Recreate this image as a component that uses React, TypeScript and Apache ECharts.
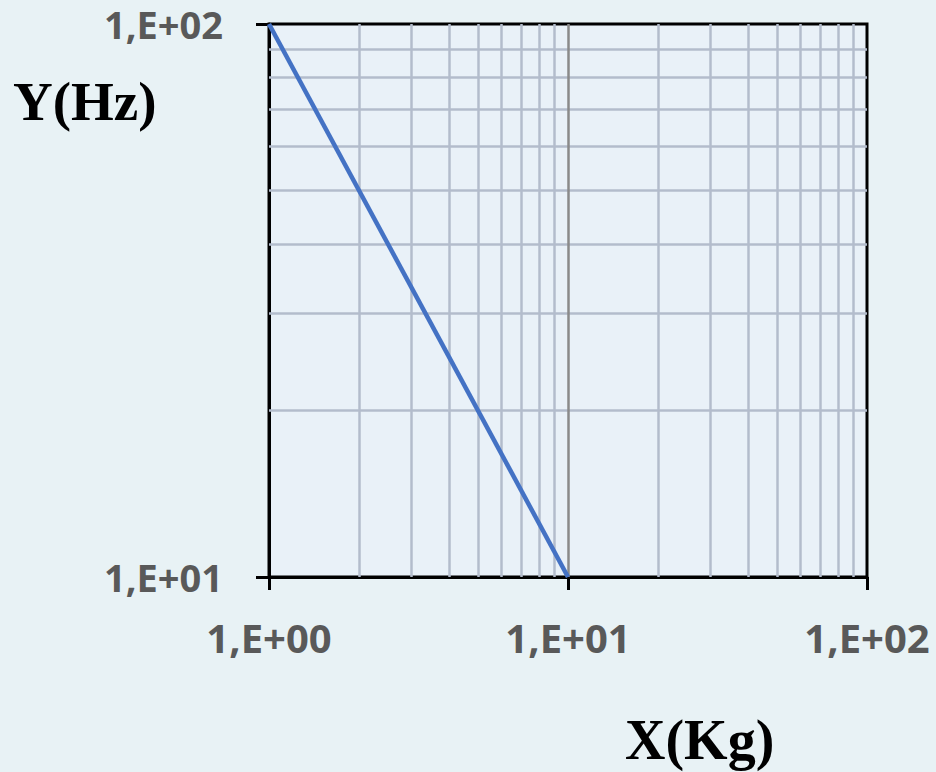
import React, { useEffect, useRef } from "react";
import * as echarts from "echarts";

// Data
const seriesX: number[] = [1, 10];
const seriesY: number[] = [100, 10];

// Tick labels
const xTickLabels: string[] = ["1,E+00", "1,E+01", "1,E+02"]; // at 1, 10, 100
const yTickLabels: string[] = ["1,E+01", "1,E+02"]; // at 10, 100

// Minor grid positions (log scale sub-divisions)
const xMinorGrid: number[] = [2, 3, 4, 5, 6, 7, 8, 9, 20, 30, 40, 50, 60, 70, 80, 90];
const yMinorGrid: number[] = [20, 30, 40, 50, 60, 70, 80, 90];
const xMajorGrid: number[] = [10];

const xTitle = "X(Kg)";
const yTitle = "Y(Hz)";

export default function App() {
  const ref = useRef<HTMLDivElement>(null);

  useEffect(() => {
    if (!ref.current) return;
    const chart = echarts.init(ref.current, undefined, { renderer: "svg" });

    const gridColor = "#b3bccc";
    const labelStyle = {
      color: "#595959",
      fontFamily: "Open Sans",
      fontWeight: "bold" as const,
      fontSize: 40,
      lineHeight: 32,
    };

    const option: any = {
      animation: false,
      backgroundColor: "#e8f2f5",
      grid: {
        left: 269,
        right: 69,
        top: 24,
        bottom: 195,
        show: true,
        backgroundColor: "#e9f1f8",
        borderColor: "#000",
        borderWidth: 3,
        containLabel: false,
      },
      xAxis: {
        type: "log",
        logBase: 10,
        min: 1,
        max: 100,
        axisLine: { show: true, lineStyle: { color: "#000", width: 3 } },
        axisTick: { show: true, length: 13, lineStyle: { color: "#000", width: 3 } },
        splitLine: { show: false },
        minorTick: { show: false },
        axisLabel: {
          ...labelStyle,
          margin: 44,
          showMinLabel: true,
          showMaxLabel: true,
          formatter: (v: number) => xTickLabels[Math.round(Math.log10(v))] ?? "",
        },
      },
      yAxis: {
        type: "log",
        logBase: 10,
        min: 10,
        max: 100,
        axisLine: { show: true, lineStyle: { color: "#000", width: 3 } },
        axisTick: { show: true, length: 13, lineStyle: { color: "#000", width: 3 } },
        splitLine: { show: false },
        axisLabel: {
          ...labelStyle,
          fontSize: 38,
          lineHeight: 30,
          margin: 46,
          showMinLabel: true,
          showMaxLabel: true,
          formatter: (v: number) => yTickLabels[Math.round(Math.log10(v)) - 1] ?? "",
        },
      },
      graphic: [
        {
          type: "text",
          left: 13,
          top: 74,
          style: {
            text: yTitle,
            fill: "#000",
            font: "bold 55px 'Liberation Serif'",
          },
        },
        {
          type: "text",
          left: 625,
          top: 712,
          style: {
            text: xTitle,
            fill: "#000",
            font: "bold 56px 'Liberation Serif'",
          },
        },
      ],
      series: [
        {
          type: "line",
          z: 1,
          data: [],
          silent: true,
          markLine: {
            silent: true,
            symbol: ["none", "none"],
            label: { show: false },
            animation: false,
            data: [
              ...xMinorGrid.map((v) => ({ xAxis: v, lineStyle: { color: gridColor, width: 2.5, type: "solid" } })),
              ...yMinorGrid.map((v) => ({ yAxis: v, lineStyle: { color: gridColor, width: 2.5, type: "solid" } })),
              ...xMajorGrid.map((v) => ({ xAxis: v, lineStyle: { color: "#8a8a8a", width: 2.5, type: "solid" } })),
            ],
          },
        },
        {
          type: "line",
          z: 5,
          data: seriesX.map((x, i) => [x, seriesY[i]]),
          showSymbol: false,
          symbol: "none",
          lineStyle: { color: "#4472C4", width: 4.5 },
        },
      ],
    };

    chart.setOption(option);
    return () => chart.dispose();
  }, []);

  return (
    <div
      ref={ref}
      style={{ position: "absolute", left: 0, top: 0, width: 936, height: 772 }}
    />
  );
}
